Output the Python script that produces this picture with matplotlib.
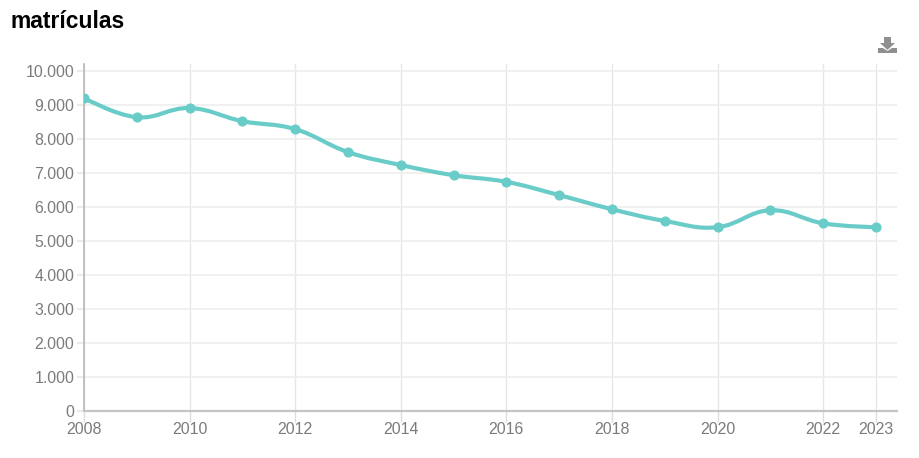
import numpy as np
import matplotlib.pyplot as plt
from matplotlib.path import Path
from matplotlib.patches import PathPatch, Polygon

plt.rcParams['font.family'] = ['Liberation Sans', 'DejaVu Sans']

# 값은 그림에서 읽은 추정치
years = [2008, 2009, 2010, 2011, 2012, 2013, 2014, 2015,
         2016, 2017, 2018, 2019, 2020, 2021, 2022, 2023]
matriculas = [9205, 8640, 8910, 8525, 8290, 7615, 7235, 6935,
              6740, 6350, 5935, 5590, 5405, 5905, 5520, 5405]
x_ticks = [2008, 2010, 2012, 2014, 2016, 2018, 2020, 2022, 2023]
y_ticks = [0, 1000, 2000, 3000, 4000, 5000, 6000, 7000, 8000, 9000, 10000]
y_labels = ['0', '1.000', '2.000', '3.000', '4.000', '5.000',
            '6.000', '7.000', '8.000', '9.000', '10.000']

W, H = 919, 458
LINE = '#6accc8'
TEXT = '#7b7b7b'


def smooth_path(xs, ys):
    # 점 사이를 베지어 곡선으로 연결
    verts = [(xs[0], ys[0])]
    codes = [Path.MOVETO]
    n = len(xs)
    left = [None] * n
    right = [None] * n
    for i in range(n):
        if i == 0 or i == n - 1:
            left[i] = (xs[i], ys[i])
            right[i] = (xs[i], ys[i])
            continue
        lx = (1.5 * xs[i] + xs[i - 1]) / 2.5
        ly = (1.5 * ys[i] + ys[i - 1]) / 2.5
        rx = (1.5 * xs[i] + xs[i + 1]) / 2.5
        ry = (1.5 * ys[i] + ys[i + 1]) / 2.5
        c = (ry - ly) * (rx - xs[i]) / (rx - lx) + ys[i] - ry
        ly += c
        ry += c
        # 이웃 점을 넘지 않도록 제한
        if abs(ly - ys[i]) > abs(ys[i - 1] - ys[i]):
            ly = ys[i - 1]
        if abs(ry - ys[i]) > abs(ys[i + 1] - ys[i]):
            ry = ys[i + 1]
        left[i] = (lx, ly)
        right[i] = (rx, ry)
    for i in range(1, n):
        verts += [right[i - 1], left[i], (xs[i], ys[i])]
        codes += [Path.CURVE4, Path.CURVE4, Path.CURVE4]
    return Path(verts, codes)


fig = plt.figure(figsize=(W / 100, H / 100), dpi=100)
ax = fig.add_axes([84 / W, 1 - 411 / H, (897 - 84) / W, (411 - 64) / H])
ax.set_xlim(2008, 2023.4)
ax.set_ylim(0, 10206)

ax.grid(True, axis='y', color='#eeeeee', linewidth=1.2)
ax.grid(True, axis='x', color='#e6e6e6', linewidth=1.0)
ax.set_axisbelow(True)
ax.set_xticks(x_ticks)
ax.set_yticks(y_ticks, y_labels)
ax.tick_params(axis='y', length=5, width=1.2, color='#e6e6e6', labelcolor=TEXT, labelsize=11.4, pad=2)
ax.tick_params(axis='x', length=8, width=1.0, color='#dedede', labelcolor=TEXT, labelsize=11.4, pad=0)

for s in ['top', 'right']:
    ax.spines[s].set_visible(False)
ax.spines['left'].set_color('#b8b8b8')
ax.spines['left'].set_linewidth(1.2)
ax.spines['bottom'].set_color('#c4c4c4')
ax.spines['bottom'].set_linewidth(1.6)

ax.add_patch(PathPatch(smooth_path(years, matriculas), facecolor='none',
                       edgecolor=LINE, linewidth=3.0, capstyle='round', zorder=3))
ax.plot(years, matriculas, linestyle='none', marker='o', markersize=6.3,
        color=LINE, clip_on=True, zorder=4)

fig.text(10 / W, 1 - 22 / H, 'matrículas', fontsize=16.5, fontweight='bold',
         color='black', va='center', ha='left')

# 다운로드 아이콘
icon = '#8f8f8f'
to_fig = lambda pts: [(px / W, 1 - py / H) for px, py in pts]
fig.add_artist(Polygon(to_fig([(884, 37), (891, 37), (891, 43), (895, 43), (887.5, 50), (880, 43), (884, 43)]),
                       closed=True, facecolor=icon, edgecolor='none', transform=fig.transFigure))
fig.add_artist(Polygon(to_fig([(878, 48), (883, 48), (887.5, 51), (892, 48), (897, 48), (897, 53), (878, 53)]),
                       closed=True, facecolor=icon, edgecolor='none', transform=fig.transFigure))

fig.savefig('out.png', dpi=100)
